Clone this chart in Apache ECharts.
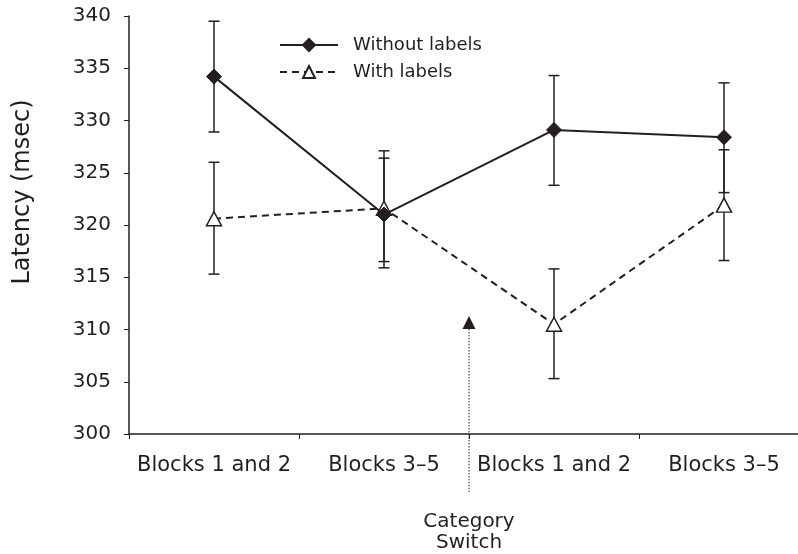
<!DOCTYPE html>
<html>
<head>
<meta charset="utf-8">
<script src="https://cdn.jsdelivr.net/npm/echarts@6/dist/echarts.min.js"></script>
<style>
html, body { margin: 0; padding: 0; background: #fff; }
#chart { width: 798px; height: 554px; }
</style>
</head>
<body>
<div id="chart"></div>
<script>
var categories = ['Blocks 1 and 2', 'Blocks 3\u20135', 'Blocks 1 and 2', 'Blocks 3\u20135'];
var yTicks = [300, 305, 310, 315, 320, 325, 330, 335, 340];

var withoutVals = [334.2, 321.0, 329.1, 328.4];
var withoutLow = [328.9, 315.9, 323.8, 323.1];
var withoutHigh = [339.5, 326.4, 334.3, 333.6];

var withVals = [320.6, 321.6, 310.5, 321.9];
var withLow = [315.3, 316.5, 305.3, 316.6];
var withHigh = [326.0, 327.1, 315.8, 327.2];

// arrow marks the switch between category index 1 and 2
var switchAfter = 1;
var arrowTip = 311.3;

var ink = '#231f20';
var font = 'DejaVu Sans';

function errData(low, high) {
	var out = [];
	for (var i = 0; i < low.length; i++) {
		out.push([i, low[i], high[i]]);
	}
	return out;
}

function renderErr(params, api) {
	var lo = api.coord([api.value(0), api.value(1)]);
	var hi = api.coord([api.value(0), api.value(2)]);
	var st = { stroke: ink, lineWidth: 1.5 };
	return {
		type: 'group',
		children: [
			{ type: 'line', shape: { x1: lo[0], y1: lo[1], x2: hi[0], y2: hi[1] }, style: st },
			{ type: 'line', shape: { x1: lo[0] - 5.5, y1: lo[1], x2: lo[0] + 5.5, y2: lo[1] }, style: st },
			{ type: 'line', shape: { x1: hi[0] - 5.5, y1: hi[1], x2: hi[0] + 5.5, y2: hi[1] }, style: st }
		]
	};
}

function renderSwitch(params, api) {
	var a = api.coord([api.value(0), api.value(1)]);
	var b = api.coord([api.value(0) + 1, api.value(1)]);
	var x = (a[0] + b[0]) / 2;
	var tipY = a[1];
	var axisY = api.coord([0, yTicks[0]])[1];
	return {
		type: 'group',
		children: [
			{ type: 'polygon', shape: { points: [[x, tipY], [x - 6.5, tipY + 13], [x + 6.5, tipY + 13]] }, style: { fill: ink } },
			{ type: 'line', shape: { x1: x, y1: tipY + 13, x2: x, y2: axisY + 58 }, style: { stroke: ink, lineWidth: 1, lineDash: [1.5, 1.5] } },
			{ type: 'text', x: x, y: axisY + 98, style: { text: 'Category\nSwitch', fill: ink, font: '20px "DejaVu Sans"', align: 'center', verticalAlign: 'middle', lineHeight: 21 } }
		]
	};
}

var chart = echarts.init(document.getElementById('chart'));
var option = {
	backgroundColor: '#fff',
	animation: false,
	textStyle: { fontFamily: font, color: ink },
	grid: {
		left: 129,
		top: 16,
		width: 680,
		height: 418,
		outerBoundsMode: 'none',
		containLabel: false
	},
	legend: {
		orient: 'vertical',
		left: 274,
		top: 31,
		itemWidth: 58,
		itemHeight: 15,
		itemGap: 9,
		textStyle: { fontSize: 18, color: ink, fontFamily: font, padding: [0, 0, 0, 10] },
		data: ['Without labels', 'With labels']
	},
	xAxis: {
		type: 'category',
		data: categories,
		boundaryGap: true,
		axisLine: { lineStyle: { color: ink, width: 1.5 } },
		axisTick: { show: true, length: 5, lineStyle: { color: ink } },
		axisLabel: { interval: 0, fontSize: 21, color: ink, margin: 21, fontFamily: font }
	},
	yAxis: {
		type: 'value',
		min: 300,
		max: 340,
		interval: 5,
		name: 'Latency (msec)',
		nameLocation: 'middle',
		nameGap: 94,
		nameTextStyle: { fontSize: 24, color: ink, fontFamily: font, padding: [0, 0, 0, 66] },
		axisLine: { show: true, lineStyle: { color: ink, width: 1.5 } },
		axisTick: { show: true, length: 5, lineStyle: { color: ink } },
		axisLabel: { fontSize: 20, color: ink, margin: 18, fontFamily: font },
		splitLine: { show: false }
	},
	series: [{
			name: 'errWithout',
			type: 'custom',
			renderItem: renderErr,
			data: errData(withoutLow, withoutHigh),
			z: 1
		},
		{
			name: 'errWith',
			type: 'custom',
			renderItem: renderErr,
			data: errData(withLow, withHigh),
			z: 1
		},
		{
			name: 'With labels',
			type: 'line',
			data: withVals,
			symbol: 'triangle',
			symbolSize: [15, 14],
			lineStyle: { color: ink, width: 2, type: [7, 5] },
			itemStyle: { color: '#fff', borderColor: ink, borderWidth: 1.5 },
			z: 3
		},
		{
			name: 'Without labels',
			type: 'line',
			data: withoutVals,
			symbol: 'diamond',
			symbolSize: [15, 15],
			lineStyle: { color: ink, width: 2 },
			itemStyle: { color: ink, borderColor: ink, borderWidth: 1 },
			z: 4
		},
		{
			name: 'switch',
			type: 'custom',
			renderItem: renderSwitch,
			clip: false,
			data: [[switchAfter, arrowTip]],
			z: 2
		}
	]
};
chart.setOption(option);
</script>
</body>
</html>
